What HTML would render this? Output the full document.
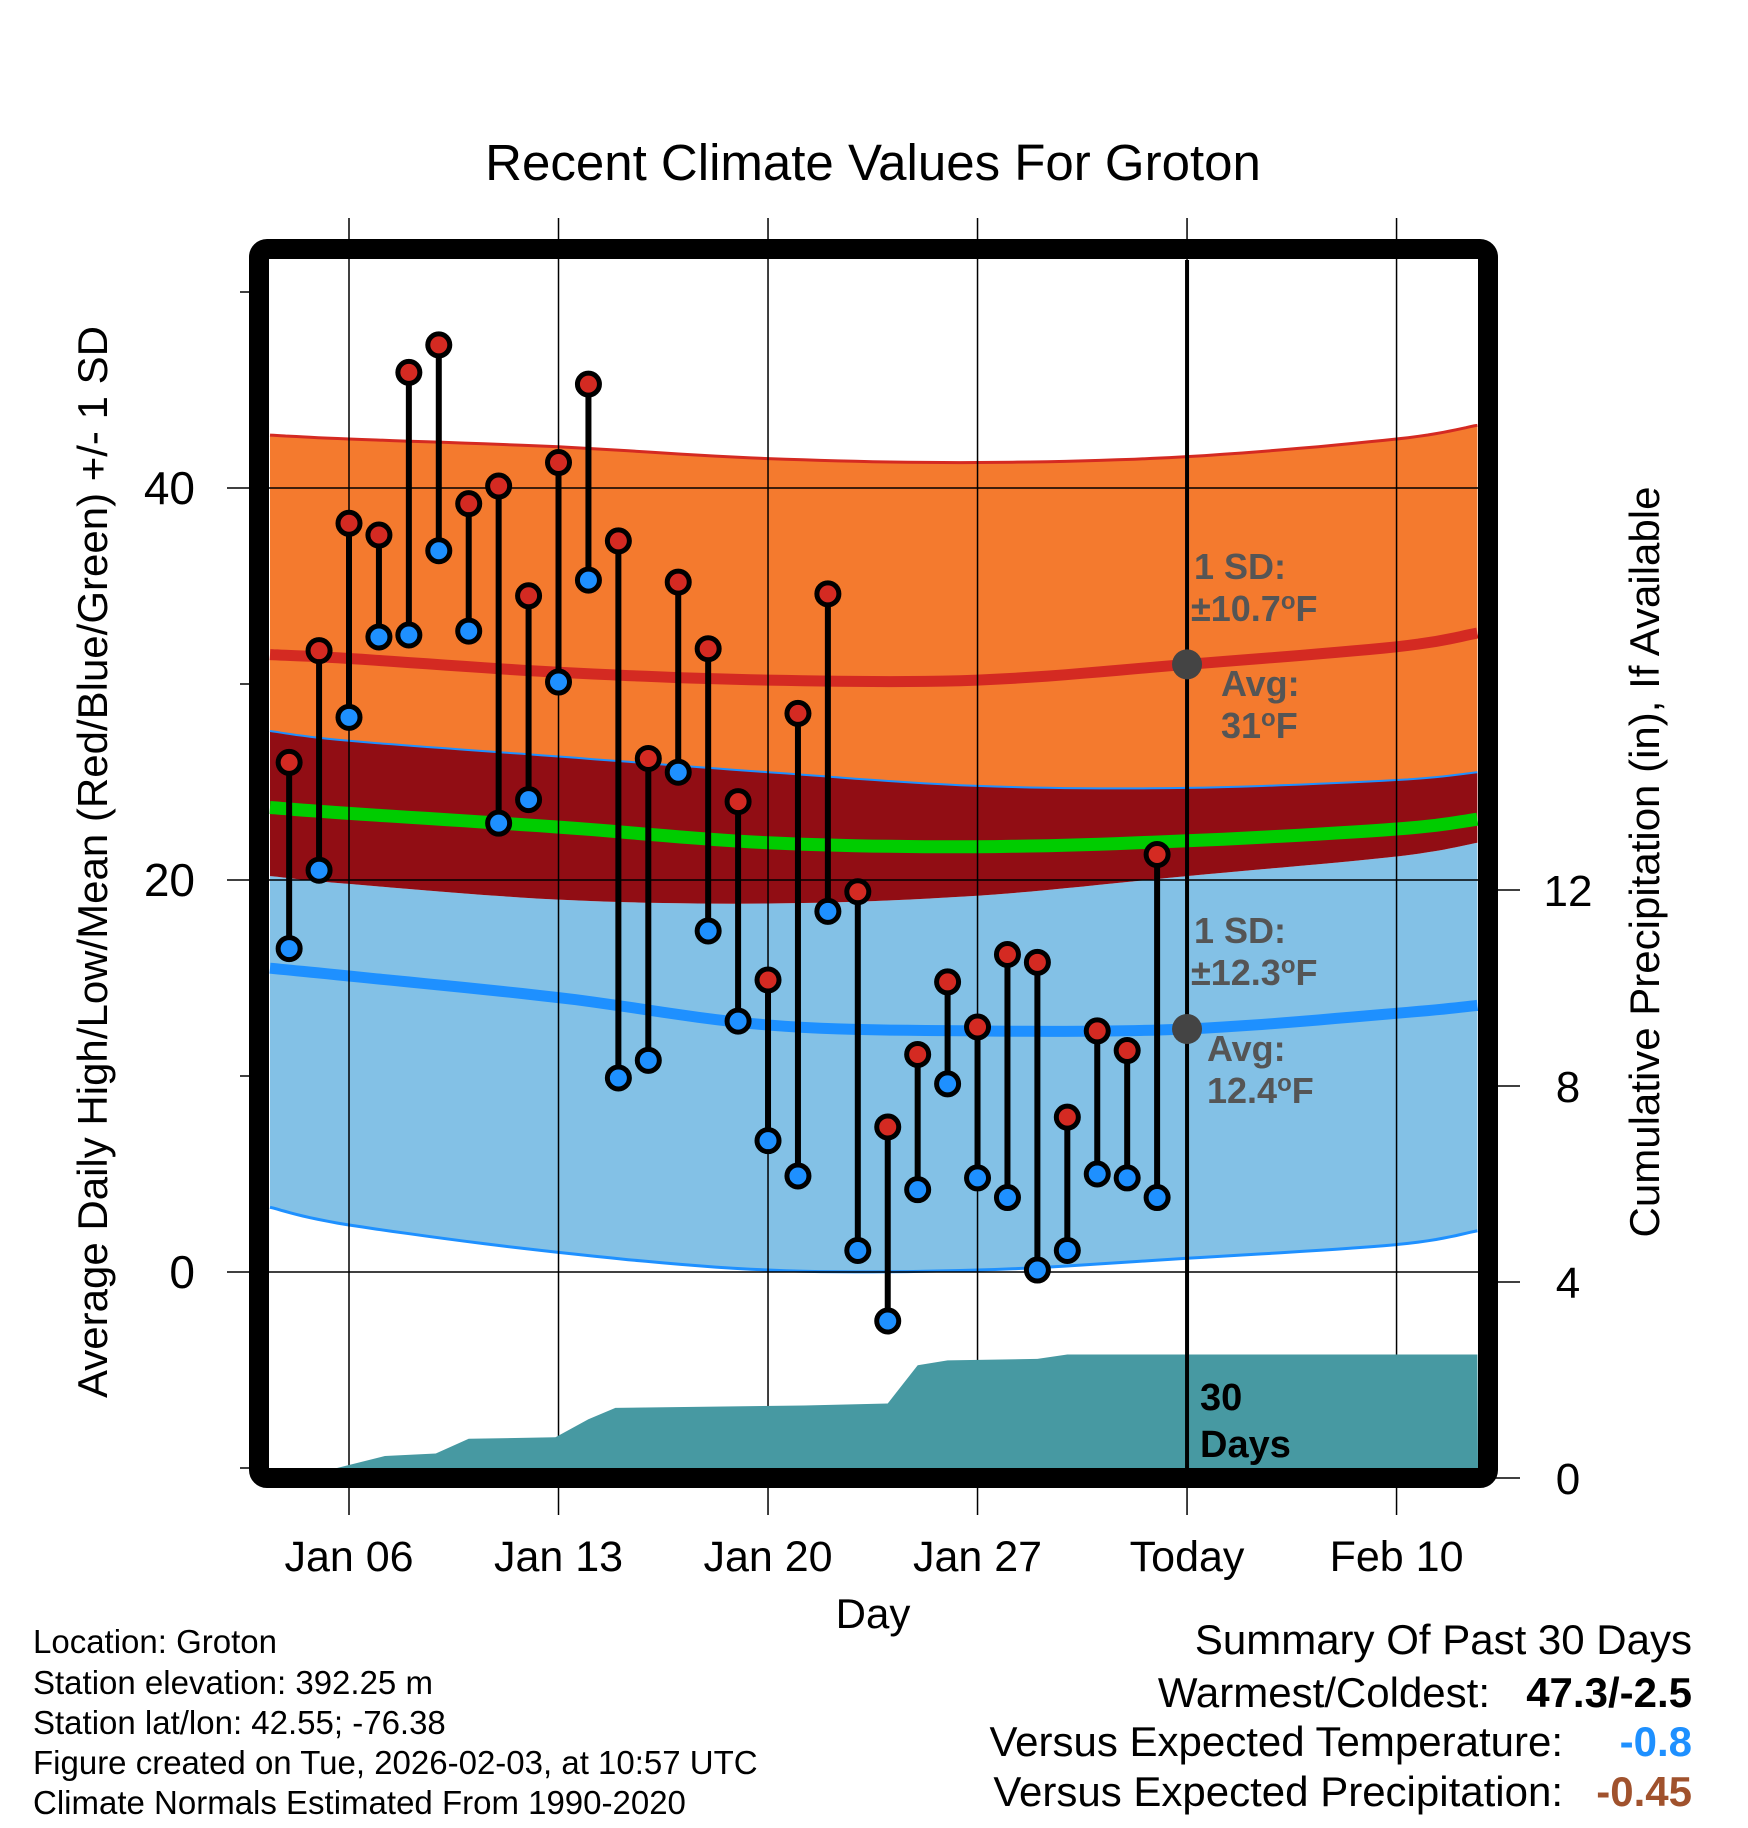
<!DOCTYPE html>
<html><head><meta charset="utf-8"><style>
html,body{margin:0;padding:0;background:#fff;}
svg{display:block;font-family:"Liberation Sans",sans-serif;}
</style></head><body>
<svg id="chart" width="1748" height="1828" viewBox="0 0 1748 1828" xmlns="http://www.w3.org/2000/svg">
<g id="bands"></g>
<g id="grid"></g>
<g id="precip"></g>
<g id="marks"></g>
<g id="frame"></g>
<text x="873" y="180" font-size="51" text-anchor="middle">Recent Climate Values For Groton</text>
<text transform="translate(107,862) rotate(-90)" font-size="42" text-anchor="middle">Average Daily High/Low/Mean (Red/Blue/Green) +/- 1 SD</text>
<text transform="translate(1659,862) rotate(-90)" font-size="42" text-anchor="middle">Cumulative Precipitation (in), If Available</text>
<text x="873" y="1628" font-size="42" text-anchor="middle">Day</text>
<g font-weight="bold" font-size="36" fill="#555">
<text x="1194" y="579">1 SD:</text>
<text x="1191" y="621">±10.7<tspan font-size="24" dy="-12">o</tspan><tspan dy="12">F</tspan></text>
<text x="1221" y="696">Avg:</text>
<text x="1221" y="738">31<tspan font-size="24" dy="-12">o</tspan><tspan dy="12">F</tspan></text>
<text x="1194" y="943">1 SD:</text>
<text x="1191" y="985">±12.3<tspan font-size="24" dy="-12">o</tspan><tspan dy="12">F</tspan></text>
<text x="1207" y="1061">Avg:</text>
<text x="1207" y="1103">12.4<tspan font-size="24" dy="-12">o</tspan><tspan dy="12">F</tspan></text>
</g>
<g font-weight="bold" font-size="38" fill="#000">
<text x="1200" y="1410">30</text><text x="1200" y="1457">Days</text>
</g>
<g font-size="33">
<text x="33" y="1653">Location: Groton</text>
<text x="33" y="1694">Station elevation: 392.25 m</text>
<text x="33" y="1734">Station lat/lon: 42.55; -76.38</text>
<text x="33" y="1774">Figure created on Tue, 2026-02-03, at 10:57 UTC</text>
<text x="33" y="1814">Climate Normals Estimated From 1990-2020</text>
</g>
<g font-size="42" text-anchor="end">
<text x="1692" y="1654">Summary Of Past 30 Days</text>
<text x="1490" y="1707">Warmest/Coldest:</text>
<text x="1692" y="1707" font-weight="bold">47.3/-2.5</text>
<text x="1563" y="1756">Versus Expected Temperature:</text>
<text x="1692" y="1756" font-weight="bold" fill="#1e90ff">-0.8</text>
<text x="1563" y="1806">Versus Expected Precipitation:</text>
<text x="1692" y="1806" font-weight="bold" fill="#a0522d">-0.45</text>
</g>
</svg>
<script>
const days=[4,5,6,7,8,9,10,11,12,13,14,15,16,17,18,19,20,21,22,23,24,25,26,27,28,29,30,31,32,33];
const highs=[26.0,31.7,38.2,37.6,45.9,47.3,39.2,40.1,34.5,41.3,45.3,37.3,26.2,35.2,31.8,24.0,14.9,28.5,34.6,19.4,7.4,11.1,14.8,12.5,16.2,15.8,7.9,12.3,11.3,21.3];
const lows=[16.5,20.5,28.3,32.4,32.5,36.8,32.7,22.9,24.1,30.1,35.3,9.9,10.8,25.5,17.4,12.8,6.7,4.9,18.4,1.1,-2.5,4.2,9.6,4.8,3.8,0.1,1.1,5.0,4.8,3.8];
const normDays=[3.36,6,13,20,27,34,41,43.7];
const hiTop=[42.7,42.5,42.1,41.5,41.3,41.6,42.5,43.2];
const hiMean=[31.5,31.3,30.6,30.2,30.2,31.0,31.9,32.6];
const hiBot=[27.6,27.1,26.3,25.5,24.8,24.7,25.1,25.5];
const meanT=[23.7,23.4,22.7,21.9,21.7,22.0,22.6,23.1];
const loTop=[20.2,19.8,19.0,18.8,19.2,20.2,21.2,21.9];
const loMean=[15.5,15.1,14.0,12.6,12.3,12.4,13.2,13.6];
const loBot=[3.3,2.4,1.0,0.1,0.1,0.7,1.4,2.1];
const precipDays=[3.36,5,5.6,7.2,8.9,10,12.9,14,14.9,21.2,24,25,26,29,30,34,43.7];
const precipVals=[0,0,0,0.45,0.5,0.8,0.83,1.2,1.43,1.48,1.52,2.3,2.4,2.43,2.52,2.52,2.52];
const xTickDays=[6,13,20,27,34,41];
const xTickLabels=["Jan 06","Jan 13","Jan 20","Jan 27","Today","Feb 10"];
const yTicks=[0,20,40];
const yMinor=[-10,10,30,50];
const pTicks=[0,4,8,12];

const L=270,R=1478,T=260,B=1468;
const X=d=>349+(d-6)*29.93;
const Y=t=>1272-t*19.6;
const P=p=>1478-p*49;
const NS="http://www.w3.org/2000/svg";
function mk(tag,parent,attrs){const e=document.createElementNS(NS,tag);for(const k in attrs)e.setAttribute(k,attrs[k]);parent.appendChild(e);return e;}
const bands=document.getElementById('bands'),grid=document.getElementById('grid'),prec=document.getElementById('precip'),marks=document.getElementById('marks'),frame=document.getElementById('frame');
// Catmull-Rom sampled smooth curve
function smooth(a){
  const pts=normDays.map((d,i)=>[X(d),Y(a[i])]);
  const out=[];
  for(let i=0;i<pts.length-1;i++){
    const p0=pts[Math.max(i-1,0)],p1=pts[i],p2=pts[i+1],p3=pts[Math.min(i+2,pts.length-1)];
    for(let k=0;k<12;k++){
      const t=k/12,t2=t*t,t3=t2*t;
      const f=(a,b,c,d)=>0.5*((2*b)+(-a+c)*t+(2*a-5*b+4*c-d)*t2+(-a+3*b-3*c+d)*t3);
      out.push(f(p0[0],p1[0],p2[0],p3[0]).toFixed(1)+','+f(p0[1],p1[1],p2[1],p3[1]).toFixed(1));
    }
  }
  const l=pts[pts.length-1];out.push(l[0].toFixed(1)+','+l[1].toFixed(1));
  return out;
}
function area(top,bot,fill,name){
  const pts=smooth(top).concat(smooth(bot).reverse()).join(' ');
  const e=mk('polygon',bands,{points:pts,fill:fill});
  
  
}
function pl(a,stroke,w,name){
  const e=mk('polyline',bands,{points:smooth(a).join(' '),fill:'none',stroke:stroke,'stroke-width':w});
  
  
}
area(loTop,loBot,'#83c1e6','low-sd-band');
area(hiBot,loTop,'#910d14','overlap-band');
area(hiTop,hiBot,'#f47a2e','high-sd-band');
pl(hiTop,'#d42a22',3,'high-plus-sd-line');
pl(hiBot,'#1e90ff',2,'high-minus-sd-line');
pl(loBot,'#1e90ff',3,'low-minus-sd-line');
pl(hiMean,'#d42a22',11,'high-normal-line');
pl(loMean,'#1e90ff',11,'low-normal-line');
pl(meanT,'#00cc00',13,'mean-normal-line');

xTickDays.forEach((d,i)=>{
  const g=mk('line',grid,{x1:X(d),x2:X(d),y1:218,y2:1515,stroke:'#000','stroke-width':1.5});
  
  
  const t=mk('text',grid,{x:X(d),y:1571,'font-size':43,'text-anchor':'middle'});
  t.textContent=xTickLabels[i];
  
  
});
yTicks.forEach(v=>{
  const g=mk('line',grid,{x1:227,x2:R,y1:Y(v),y2:Y(v),stroke:'#000','stroke-width':1.5});
  
  
  const t=mk('text',grid,{x:195,y:Y(v)+16,'font-size':46,'text-anchor':'end'});
  t.textContent=v;
  
  
});
yMinor.forEach(v=>{
  const g=mk('line',grid,{x1:240,x2:252,y1:Y(v),y2:Y(v),stroke:'#000','stroke-width':1.5});
  
  
});
pTicks.forEach(v=>{
  const g=mk('line',grid,{x1:1495,x2:1520,y1:P(v),y2:P(v),stroke:'#000','stroke-width':1.5});
  
  
  const t=mk('text',grid,{x:1568,y:P(v)+16,'font-size':44,'text-anchor':'middle'});
  t.textContent=v;
  
  
});

{
  let pts=precipDays.map((d,i)=>X(Math.max(d,3.36)).toFixed(1)+','+Math.min(P(precipVals[i]),B).toFixed(1));
  pts.push(R+','+B, L+','+B);
  const e=mk('polygon',prec,{points:pts.join(' '),fill:'#4799a2'});
  
  
}

{
  const e=mk('line',marks,{x1:X(34),x2:X(34),y1:T,y2:B,stroke:'#000','stroke-width':4});
  
  
  const a=mk('circle',marks,{cx:X(34),cy:Y(hiMean[5]),r:15,fill:'#444'});
  
  
  const b=mk('circle',marks,{cx:X(34),cy:Y(loMean[5]),r:15,fill:'#444'});
  
  
}

days.forEach((d,i)=>{
  const s=mk('line',marks,{x1:X(d),x2:X(d),y1:Y(highs[i]),y2:Y(lows[i]),stroke:'#000','stroke-width':6});
  
  
  const h=mk('circle',marks,{cx:X(d),cy:Y(highs[i]),r:11,fill:'#d42a22',stroke:'#000','stroke-width':5});
  
  
  const l=mk('circle',marks,{cx:X(d),cy:Y(lows[i]),r:11,fill:'#1e90ff',stroke:'#000','stroke-width':5});
  
  
});

{
  const f=mk('rect',frame,{x:259,y:249,width:1229,height:1229,rx:8,fill:'none',stroke:'#000','stroke-width':20});
  
  
}
</script>
</body></html>
